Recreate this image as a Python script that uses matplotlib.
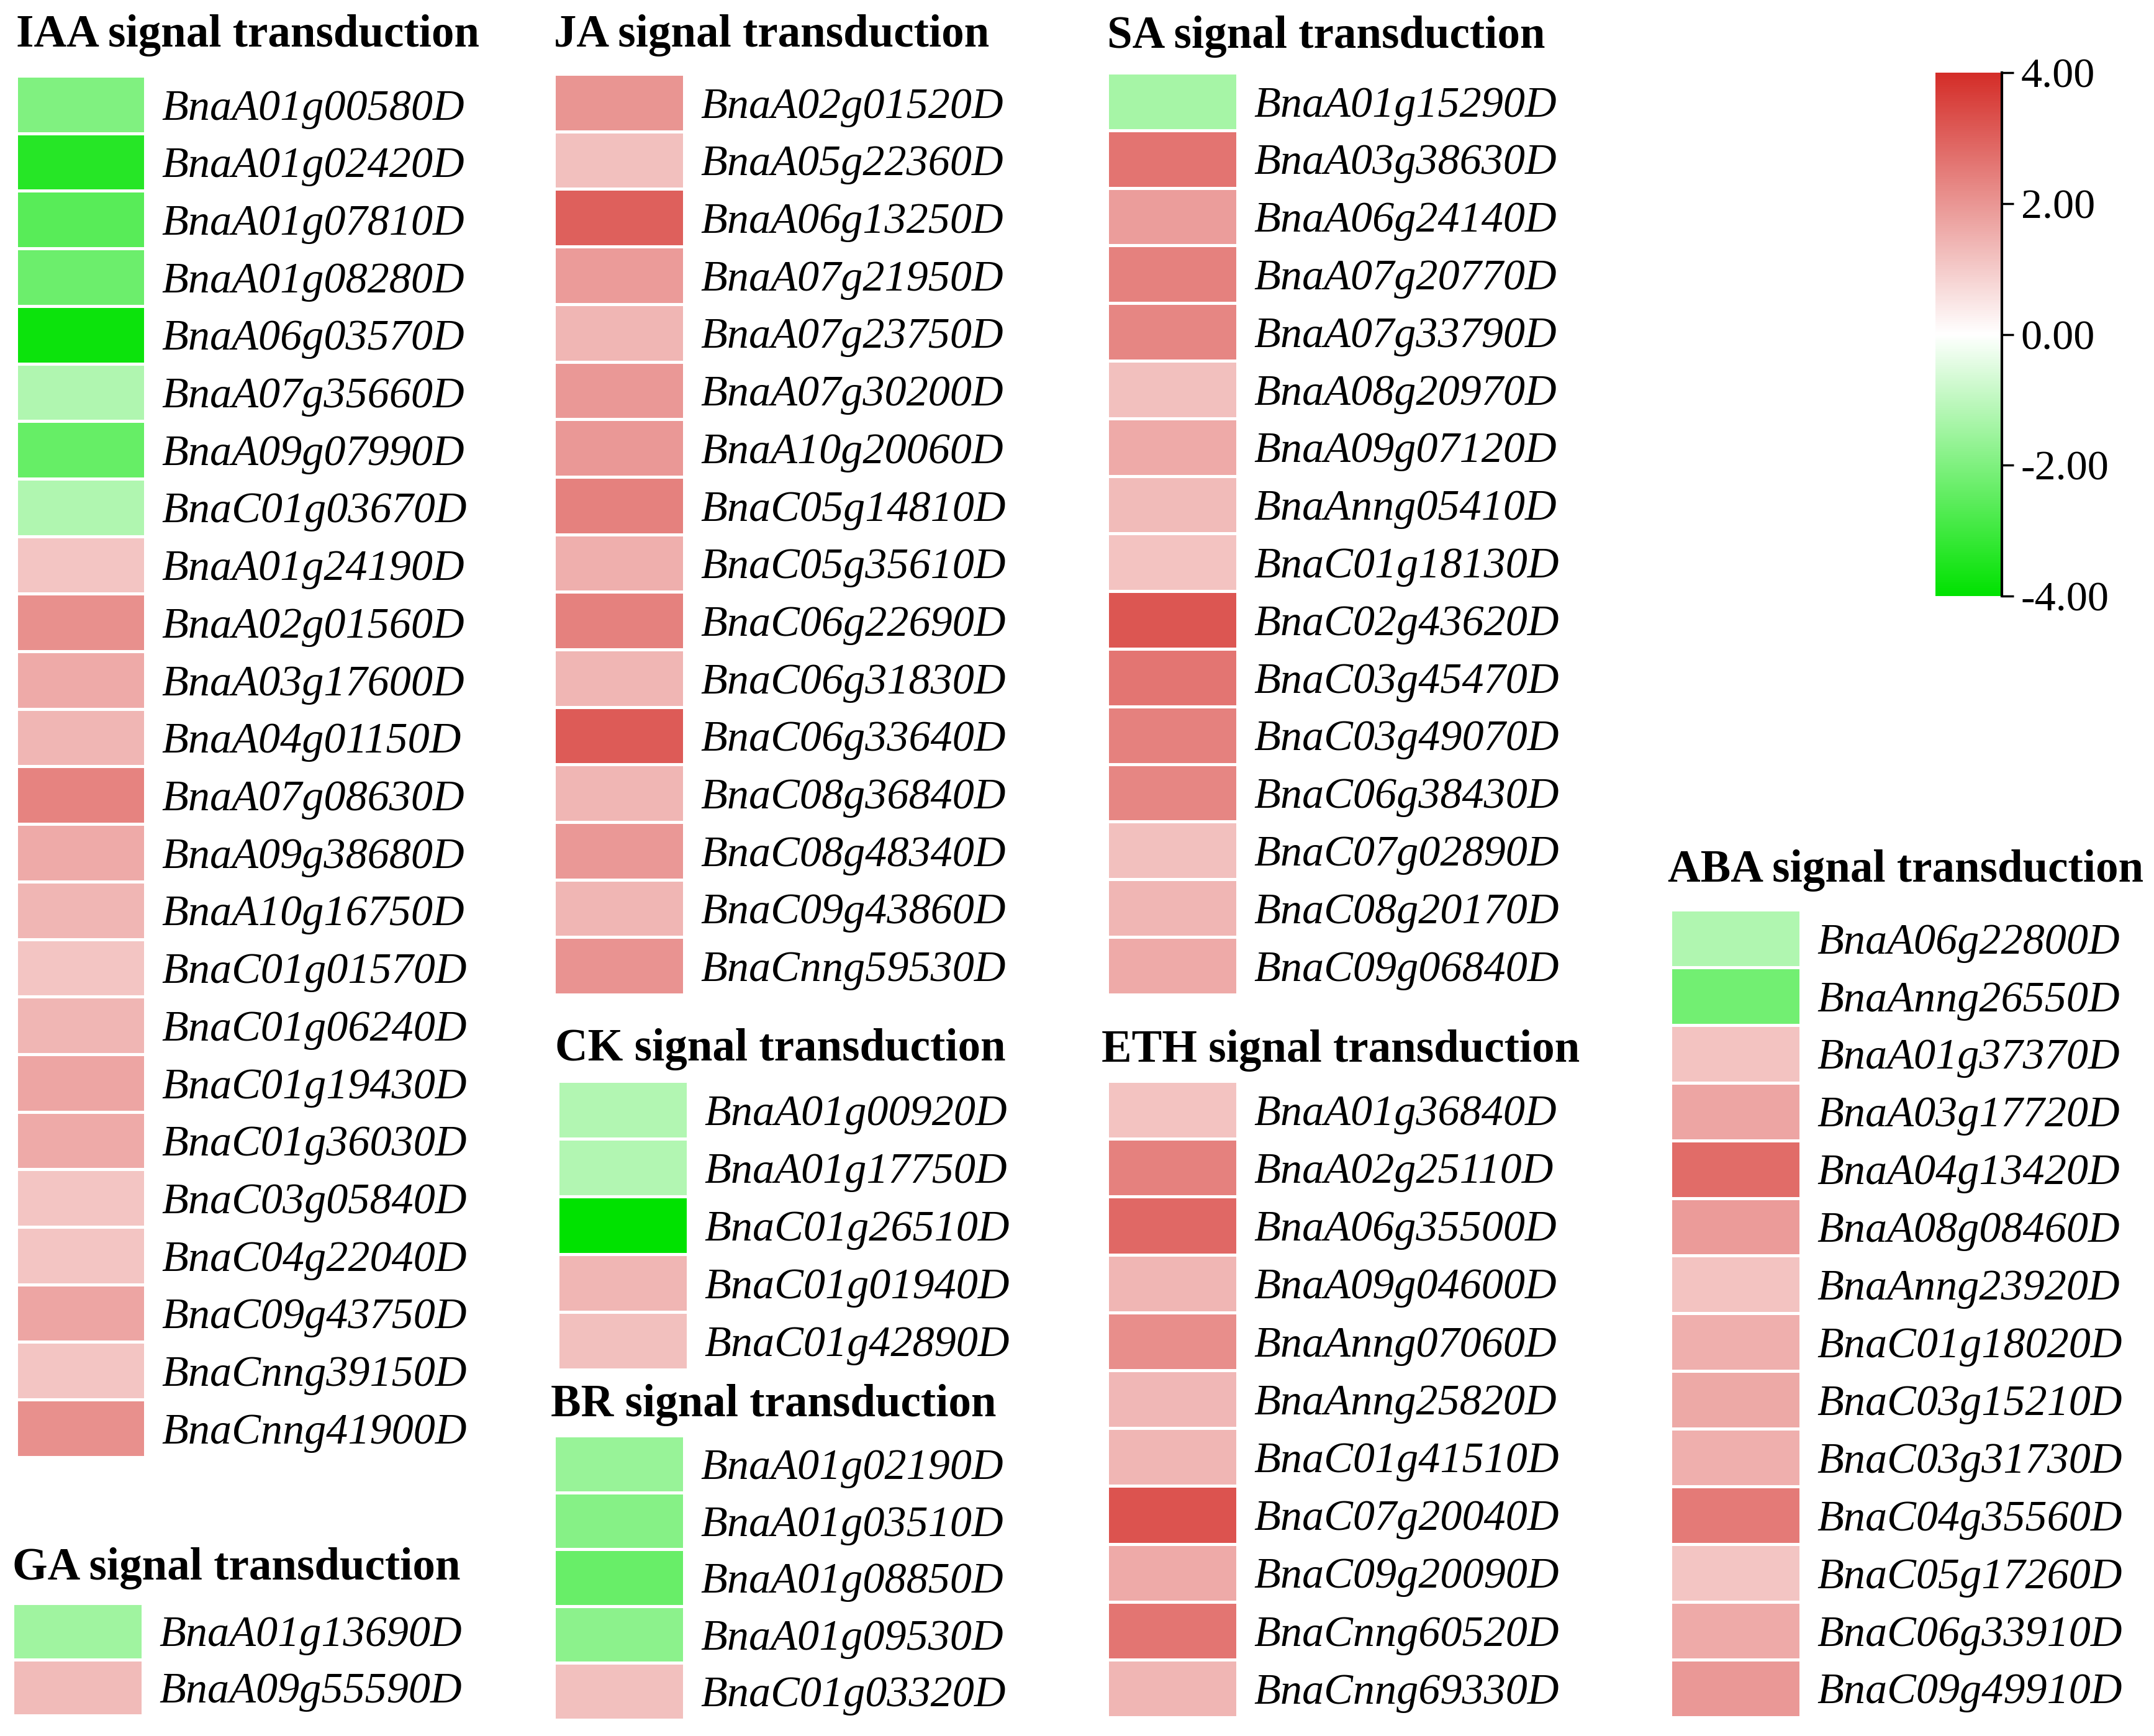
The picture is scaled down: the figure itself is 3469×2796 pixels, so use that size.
import numpy as np
import matplotlib
matplotlib.use("Agg")
import matplotlib.pyplot as plt
from matplotlib.colors import LinearSegmentedColormap, Normalize
from matplotlib.cm import ScalarMappable

W, H = 3469, 2796
DPI = 100

# ---------------- data ----------------
iaa_genes = ["BnaA01g00580D", "BnaA01g02420D", "BnaA01g07810D", "BnaA01g08280D",
             "BnaA06g03570D", "BnaA07g35660D", "BnaA09g07990D", "BnaC01g03670D",
             "BnaA01g24190D", "BnaA02g01560D", "BnaA03g17600D", "BnaA04g01150D",
             "BnaA07g08630D", "BnaA09g38680D", "BnaA10g16750D", "BnaC01g01570D",
             "BnaC01g06240D", "BnaC01g19430D", "BnaC01g36030D", "BnaC03g05840D",
             "BnaC04g22040D", "BnaC09g43750D", "BnaCnng39150D", "BnaCnng41900D"]
iaa_vals = [-2.0, -3.4, -2.6, -2.3, -3.8, -1.25, -2.4, -1.25,
            1.1, 2.1, 1.6, 1.4, 2.35, 1.6, 1.4, 1.1,
            1.4, 1.7, 1.6, 1.1, 1.1, 1.7, 1.1, 2.1]

ga_genes = ["BnaA01g13690D", "BnaA09g55590D"]
ga_vals = [-1.5, 1.3]

ja_genes = ["BnaA02g01520D", "BnaA05g22360D", "BnaA06g13250D", "BnaA07g21950D",
            "BnaA07g23750D", "BnaA07g30200D", "BnaA10g20060D", "BnaC05g14810D",
            "BnaC05g35610D", "BnaC06g22690D", "BnaC06g31830D", "BnaC06g33640D",
            "BnaC08g36840D", "BnaC08g48340D", "BnaC09g43860D", "BnaCnng59530D"]
ja_vals = [2.0, 1.2, 3.0, 1.9, 1.4, 1.95, 1.95, 2.4,
           1.5, 2.4, 1.4, 3.1, 1.4, 1.95, 1.4, 2.05]

ck_genes = ["BnaA01g00920D", "BnaA01g17750D", "BnaC01g26510D", "BnaC01g01940D", "BnaC01g42890D"]
ck_vals = [-1.2, -1.2, -4.0, 1.4, 1.2]

br_genes = ["BnaA01g02190D", "BnaA01g03510D", "BnaA01g08850D", "BnaA01g09530D", "BnaC01g03320D"]
br_vals = [-1.6, -1.9, -2.35, -1.8, 1.2]

sa_genes = ["BnaA01g15290D", "BnaA03g38630D", "BnaA06g24140D", "BnaA07g20770D",
            "BnaA07g33790D", "BnaA08g20970D", "BnaA09g07120D", "BnaAnng05410D",
            "BnaC01g18130D", "BnaC02g43620D", "BnaC03g45470D", "BnaC03g49070D",
            "BnaC06g38430D", "BnaC07g02890D", "BnaC08g20170D", "BnaC09g06840D"]
sa_vals = [-1.4, 2.65, 1.85, 2.4, 2.3, 1.2, 1.6, 1.3,
           1.15, 3.2, 2.6, 2.4, 2.3, 1.2, 1.4, 1.6]

eth_genes = ["BnaA01g36840D", "BnaA02g25110D", "BnaA06g35500D", "BnaA09g04600D",
             "BnaAnng07060D", "BnaAnng25820D", "BnaC01g41510D", "BnaC07g20040D",
             "BnaC09g20090D", "BnaCnng60520D", "BnaCnng69330D"]
eth_vals = [1.15, 2.4, 2.85, 1.4, 2.15, 1.35, 1.4, 3.25, 1.6, 2.6, 1.4]

aba_genes = ["BnaA06g22800D", "BnaAnng26550D", "BnaA01g37370D", "BnaA03g17720D",
             "BnaA04g13420D", "BnaA08g08460D", "BnaAnng23920D", "BnaC01g18020D",
             "BnaC03g15210D", "BnaC03g31730D", "BnaC04g35560D", "BnaC05g17260D",
             "BnaC06g33910D", "BnaC09g49910D"]
aba_vals = [-1.25, -2.2, 1.15, 1.7, 2.8, 1.9, 1.15, 1.5,
            1.65, 1.5, 2.5, 1.1, 1.6, 1.95]

cbar_ticks = [-4, -2, 0, 2, 4]
cbar_ticklabels = ["-4.00", "-2.00", "0.00", "2.00", "4.00"]

# ---------------- style ----------------
SERIF = "Liberation Serif"
cmap = LinearSegmentedColormap.from_list(
    "gwr", [(0.0, 226 / 255, 0.0), (1, 1, 1), (212 / 255, 45 / 255, 40 / 255)])
norm = Normalize(vmin=-4, vmax=4)

fig = plt.figure(figsize=(W / DPI, H / DPI), dpi=DPI)
fig.patch.set_facecolor("white")


def px_axes(x0, y0, x1, y1):
    return fig.add_axes([x0 / W, 1 - y1 / H, (x1 - x0) / W, (y1 - y0) / H])


def panel(title, genes, vals, x0, x1, ytop, row_h, tx, ty):
    n = len(genes)
    ax = px_axes(x0, ytop, x1, ytop + n * row_h)
    data = np.array(vals, dtype=float).reshape(-1, 1)
    ax.pcolormesh(np.arange(2), np.arange(n + 1), data, cmap=cmap, norm=norm,
                  edgecolors="white", linewidth=2.5)
    ax.set_xlim(0, 1)
    ax.set_ylim(n, 0)
    ax.set_xticks([])
    ax.set_yticks(np.arange(n) + 0.5)
    ax.set_yticklabels(genes, fontstyle="italic", fontsize=50.5, family=SERIF)
    ax.yaxis.tick_right()
    ax.tick_params(axis="y", length=0, pad=19)
    for s in ax.spines.values():
        s.set_visible(False)
    fig.text(tx / W, 1 - ty / H, title, fontsize=52.5, fontweight="bold",
             family=SERIF, ha="left", va="center")


panel("IAA signal transduction", iaa_genes, iaa_vals, 26, 234, 122, 92.7, 26, 57)
panel("GA signal transduction", ga_genes, ga_vals, 20, 230, 2582, 90.5, 20, 2526)
panel("JA signal transduction", ja_genes, ja_vals, 892, 1102, 119, 92.7, 892, 57)
panel("CK signal transduction", ck_genes, ck_vals, 898, 1108, 1741, 93, 894, 1690)
panel("BR signal transduction", br_genes, br_vals, 892, 1102, 2312, 91.6, 887, 2263)
panel("SA signal transduction", sa_genes, sa_vals, 1783, 1993, 117, 92.8, 1783, 59)
panel("ETH signal transduction", eth_genes, eth_vals, 1783, 1993, 1741, 93.2, 1774, 1692)
panel("ABA signal transduction", aba_genes, aba_vals, 2690, 2900, 1465, 92.9, 2686, 1402)

# ---------------- colorbar ----------------
cax = px_axes(3117, 117, 3224, 960)
sm = ScalarMappable(norm=norm, cmap=cmap)
cb = fig.colorbar(sm, cax=cax, ticks=cbar_ticks)
cb.outline.set_visible(False)
cb.ax.set_yticklabels(cbar_ticklabels, family=SERIF, fontsize=49)
cb.ax.tick_params(axis="y", length=14, width=2.5, pad=8, direction="out", colors="black")
cax.plot([1, 1], [0, 1], transform=cax.transAxes, color="black", lw=3, clip_on=False)

fig.savefig("out.png", dpi=DPI, facecolor="white")
